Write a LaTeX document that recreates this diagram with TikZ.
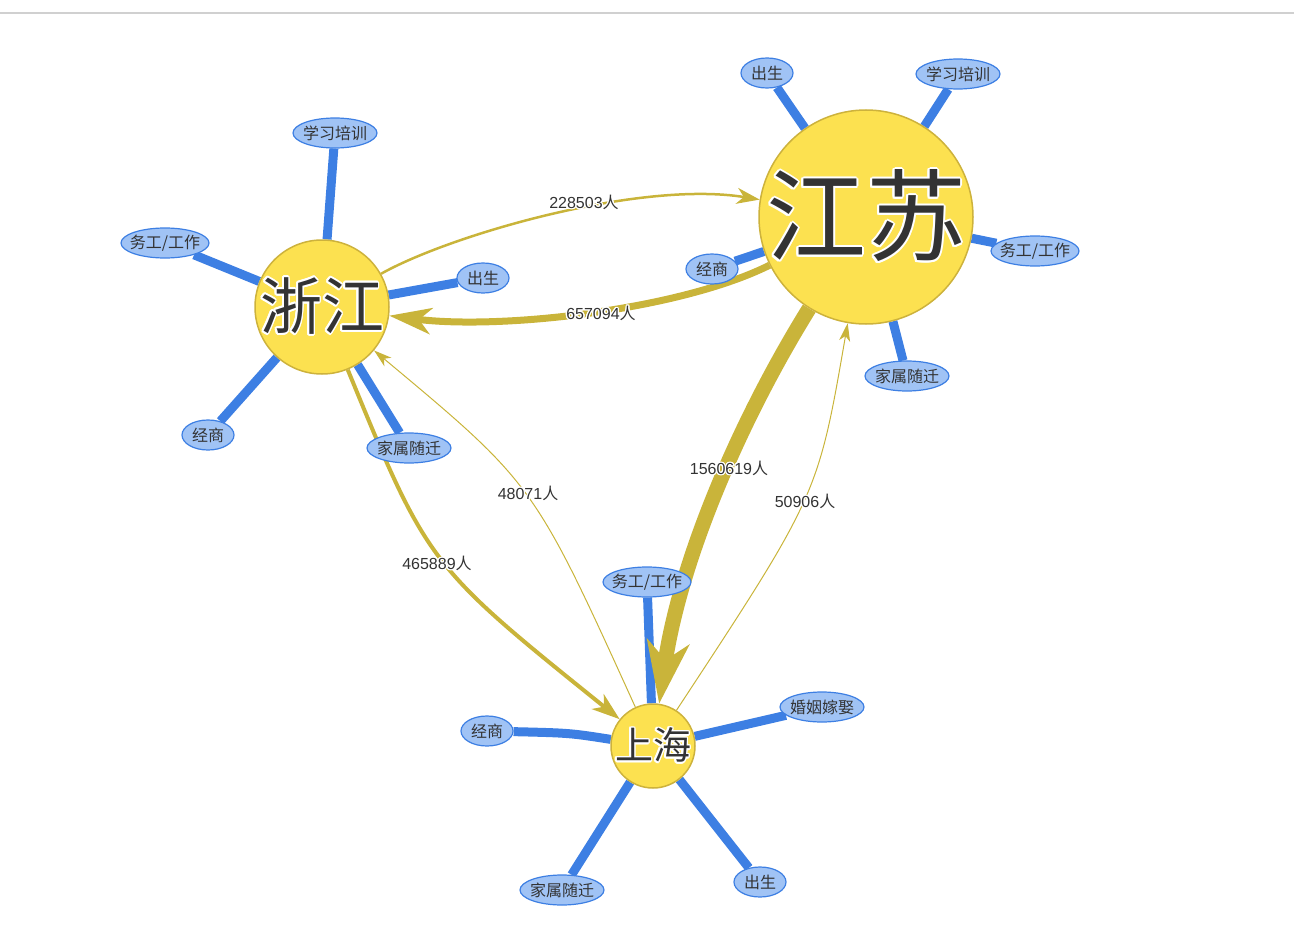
\documentclass[tikz,border=0pt]{standalone}
\usepackage{fontspec}
\setmainfont{Liberation Sans}
\newfontfamily\cjk{Noto Sans CJK SC}
\usepackage{contour}
\usetikzlibrary{arrows.meta,shapes.geometric}
\pgfdeclarelayer{bg}
\pgfsetlayers{bg,main}
\definecolor{gold}{HTML}{C9B43A}
\definecolor{sun}{HTML}{FCE150}
\definecolor{sunline}{HTML}{CDB23C}
\definecolor{blueline}{HTML}{3D7FE3}
\definecolor{bluefill}{HTML}{A0C3F5}
\definecolor{txt}{HTML}{333333}
\definecolor{topgray}{HTML}{D0D0D0}
\begin{document}
\begin{tikzpicture}[x=1pt,y=-1pt,
  city/.style={circle, draw=sunline, fill=sun, line width=1.5pt, inner sep=0pt},
  bigtext/.style={text=txt, inner sep=0pt},
  tag/.style={ellipse, draw=blueline, fill=bluefill, line width=1.2pt,
    inner xsep=-10pt, inner ysep=-4pt, minimum height=30pt, minimum width=84pt,
    font=\cjk\fontsize{16}{16}\selectfont, text=txt},
  tagS/.style={tag, minimum width=52pt},
  tagL/.style={tag, minimum width=88pt},
  spoke/.style={draw=blueline, line width=9pt},
  flow/.style={draw=gold},
  elabel/.style={text=txt, font=\fontsize{16}{16}\selectfont, inner sep=0pt},
  topline/.style={draw=topgray, line width=2pt}]
\useasboundingbox (0,0) rectangle (1294,950);
\draw[topline] (0,13) -- (1294,13);

% cities
\node[city, minimum size=134pt,
  label={[bigtext, font=\cjk\fontsize{62}{62}\selectfont]center:\contourlength{1.8pt}\contour{white}{浙江}}] (zj) at (322,307) {};
\node[city, minimum size=214pt,
  label={[bigtext, font=\cjk\fontsize{100}{100}\selectfont]center:\contourlength{2pt}\contour{white}{江苏}}] (js) at (866,217) {};
\node[city, minimum size=84pt,
  label={[bigtext, font=\cjk\fontsize{38}{38}\selectfont]center:\contourlength{1.5pt}\contour{white}{上海}}] (sh) at (653,746) {};

% tags of Zhejiang
\node[tag]  (zj1) at (335,133) {学习培训};
\node[tagL] (zj2) at (165,243) {务工/工作};
\node[tagS] (zj3) at (483,278) {出生};
\node[tagS] (zj4) at (208,435) {经商};
\node[tag]  (zj5) at (409,448) {家属随迁};
% tags of Jiangsu
\node[tagS] (js1) at (767,73) {出生};
\node[tag]  (js2) at (958,74) {学习培训};
\node[tagS] (js3) at (712,269) {经商};
\node[tagL] (js4) at (1035,251) {务工/工作};
\node[tag]  (js5) at (907,376) {家属随迁};
% tags of Shanghai
\node[tagL] (sh1) at (647,582) {务工/工作};
\node[tag]  (sh2) at (822,707) {婚姻嫁娶};
\node[tagS] (sh3) at (487,731) {经商};
\node[tag]  (sh4) at (562,890) {家属随迁};
\node[tagS] (sh5) at (760,882) {出生};

% edge labels
\node[elabel] (l1) at (584,203) {\contourlength{1.2pt}\contour{white}{228503{\cjk 人}}};
\node[elabel] (l2) at (601,314) {\contourlength{1.2pt}\contour{white}{657094{\cjk 人}}};
\node[elabel] (l3) at (729,469) {\contourlength{1.2pt}\contour{white}{1560619{\cjk 人}}};
\node[elabel] (l4) at (805,502) {\contourlength{1.2pt}\contour{white}{50906{\cjk 人}}};
\node[elabel] (l5) at (437,564) {\contourlength{1.2pt}\contour{white}{465889{\cjk 人}}};
\node[elabel] (l6) at (528,494) {\contourlength{1.2pt}\contour{white}{48071{\cjk 人}}};

\begin{pgfonlayer}{bg}
  \draw[spoke] (zj) -- (zj1);
  \draw[spoke] (zj) -- (zj2);
  \draw[spoke] (zj) -- (zj3);
  \draw[spoke] (zj) -- (zj4);
  \draw[spoke] (zj) -- (zj5);
  \draw[spoke] (js) -- (js1);
  \draw[spoke] (js) -- (js2);
  \draw[spoke] (js) -- (js3);
  \draw[spoke] (js) -- (js4);
  \draw[spoke] (js) -- (js5);
  \draw[spoke] (sh) -- (sh1);
  \draw[spoke] (sh) -- (sh2);
  \draw[spoke] (sh) .. controls (570,733) .. (sh3);
  \draw[spoke] (sh) -- (sh4);
  \draw[spoke] (sh) -- (sh5);

  \draw[flow, line width=2.5pt, -{Stealth[length=23pt,width=16pt,inset=7pt]}]
    (zj) .. controls (450,235) and (640,180) .. (js);
  \draw[flow, line width=7pt, -{Stealth[length=42pt,width=26pt,inset=12pt]}]
    (js) .. controls (680,310) and (500,330) .. (zj);
  \draw[flow, line width=15pt, -{Stealth[length=62pt,width=42pt,inset=18pt]}]
    (js) .. controls (740,420) and (680,560) .. (sh);
  \draw[flow, line width=1pt, -{Stealth[length=18pt,width=11pt,inset=5pt]}]
    (sh) .. controls (818,495) .. (js);
  \draw[flow, line width=4pt, -{Stealth[length=28pt,width=19pt,inset=8pt]}]
    (zj) .. controls (428,565) .. (sh);
  \draw[flow, line width=1pt, -{Stealth[length=18pt,width=11pt,inset=5pt]}]
    (sh) .. controls (534,484) .. (zj);
\end{pgfonlayer}
\end{tikzpicture}
\end{document}
